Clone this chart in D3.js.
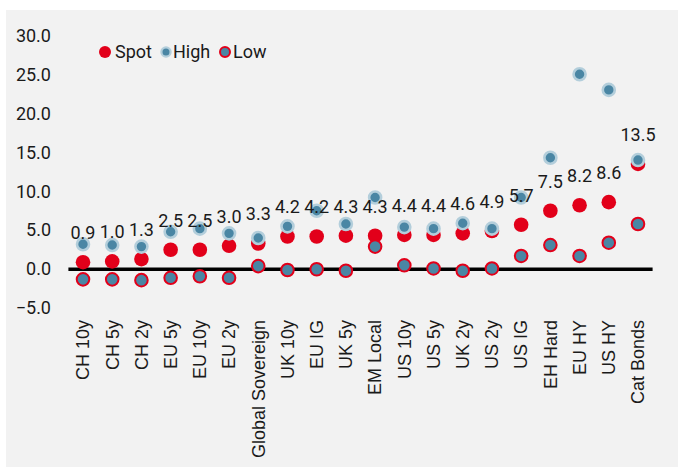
<!DOCTYPE html>
<html>
<head>
<meta charset="utf-8">
<script src="https://cdn.jsdelivr.net/npm/d3@7"></script>
<style>
  html, body { margin: 0; padding: 0; background: #ffffff; }
  svg { display: block; }
</style>
</head>
<body>
<div id="chart"></div>
<script>
// Yield ranges per market: current spot level with historical high and low
const categories = ["CH 10y", "CH 5y", "CH 2y", "EU 5y", "EU 10y", "EU 2y", "Global Sovereign",
  "UK 10y", "EU IG", "UK 5y", "EM Local", "US 10y", "US 5y", "UK 2y", "US 2y", "US IG",
  "EH Hard", "EU HY", "US HY", "Cat Bonds"];
const spot = [0.9, 1.0, 1.3, 2.5, 2.5, 3.0, 3.3, 4.2, 4.2, 4.3, 4.3, 4.4, 4.4, 4.6, 4.9, 5.7, 7.5, 8.2, 8.6, 13.5];
const high = [3.2, 3.1, 2.9, 4.8, 5.2, 4.6, 4.0, 5.5, 7.5, 5.8, 9.2, 5.4, 5.2, 5.9, 5.2, 9.2, 14.3, 25.0, 23.0, 14.0];
const low = [-1.3, -1.3, -1.4, -1.1, -0.9, -1.1, 0.4, -0.1, 0.0, -0.2, 2.9, 0.5, 0.1, -0.2, 0.1, 1.7, 3.1, 1.7, 3.4, 5.8];
const yTicks = [-5, 0, 5, 10, 15, 20, 25, 30];
const legendItems = ["Spot", "High", "Low"];

const W = 679, H = 467;
const RED = "#e2001a", BLUE = "#4a86a4", HALO = "#b3cedb";
const NUM_FONT = "Roboto, 'Liberation Sans', sans-serif";
const CAT_FONT = "'Liberation Sans', Arial, sans-serif";

const svg = d3.select("#chart").append("svg").attr("width", W).attr("height", H);

svg.append("rect").attr("x", 6).attr("y", 10).attr("width", 672).attr("height", 457).attr("fill", "#f2f2f2");

const x = d3.scaleBand().domain(categories).range([68.4, 652.6]);
const y = d3.scaleLinear().domain([-5, 30]).range([308.2, 35.3]);
const cx = c => x(c) + x.bandwidth() / 2;

// y axis: labels only
const yAxis = svg.append("g").attr("transform", "translate(58,0)")
  .call(d3.axisLeft(y).tickValues(yTicks).tickFormat(d3.format(".1f")).tickSize(0).tickPadding(7));
yAxis.select(".domain").remove();
yAxis.selectAll("text").attr("font-family", NUM_FONT).attr("font-size", 18).attr("fill", "#1a1a1a");

// x axis: rotated category labels
const xAxis = svg.append("g").attr("transform", "translate(0,320)")
  .call(d3.axisBottom(x).tickSize(0).tickPadding(0));
xAxis.select(".domain").remove();
xAxis.selectAll("text")
  .attr("font-family", CAT_FONT).attr("font-size", 18).attr("fill", "#1a1a1a")
  .attr("text-anchor", "end")
  .attr("transform", "rotate(-90)")
  .attr("x", 0).attr("y", 0).attr("dy", "0.35em");

// zero line
svg.append("line")
  .attr("x1", x.range()[0]).attr("x2", x.range()[1])
  .attr("y1", y(0)).attr("y2", y(0))
  .attr("stroke", "#000").attr("stroke-width", 3.6);

const rows = categories.map((c, i) => ({ c, spot: spot[i], high: high[i], low: low[i] }));

// spot
svg.append("g").selectAll("circle").data(rows).join("circle")
  .attr("cx", d => cx(d.c)).attr("cy", d => y(d.spot)).attr("r", 7.3).attr("fill", RED);

// high
svg.append("g").selectAll("circle").data(rows).join("circle")
  .attr("cx", d => cx(d.c)).attr("cy", d => y(d.high)).attr("r", 6)
  .attr("fill", BLUE).attr("stroke", HALO).attr("stroke-width", 2.6);

// low
svg.append("g").selectAll("circle").data(rows).join("circle")
  .attr("cx", d => cx(d.c)).attr("cy", d => y(d.low)).attr("r", 6.3)
  .attr("fill", BLUE).attr("stroke", RED).attr("stroke-width", 2);

// spot value labels
svg.append("g").selectAll("text").data(rows).join("text")
  .attr("x", d => cx(d.c)).attr("y", d => y(d.spot) - 23)
  .attr("text-anchor", "middle")
  .attr("font-family", NUM_FONT).attr("font-size", 18).attr("fill", "#1a1a1a")
  .text(d => d3.format(".1f")(d.spot));

// legend
const legend = svg.append("g");
const legendPos = [{ cx: 105, tx: 115 }, { cx: 166, tx: 173 }, { cx: 225, tx: 233 }];
legendItems.forEach((name, i) => {
  const p = legendPos[i];
  const m = legend.append("circle").attr("cx", p.cx).attr("cy", 52);
  if (name === "Spot") m.attr("r", 6).attr("fill", RED);
  else if (name === "High") m.attr("r", 4.6).attr("fill", BLUE).attr("stroke", HALO).attr("stroke-width", 2.2);
  else m.attr("r", 5).attr("fill", BLUE).attr("stroke", RED).attr("stroke-width", 2);
  legend.append("text").attr("x", p.tx).attr("y", 52).attr("dy", "0.35em")
    .attr("font-family", NUM_FONT).attr("font-size", 18).attr("fill", "#1a1a1a")
    .text(name);
});
</script>
</body>
</html>
